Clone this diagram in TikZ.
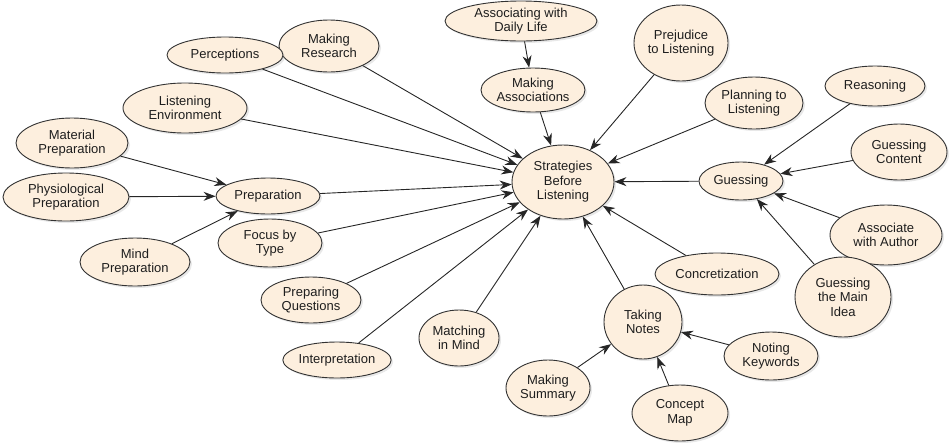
\documentclass[tikz,border=0pt]{standalone}
\usepackage{fontspec}
\setmainfont{Liberation Sans}
\usetikzlibrary{shapes.geometric,arrows.meta,shadows}
\definecolor{nodefill}{RGB}{253,239,222}
\definecolor{nodeline}{RGB}{50,50,50}
\definecolor{txt}{RGB}{30,30,30}
\begin{document}
\begin{tikzpicture}[x=1pt,y=-1pt,
  bub/.style={ellipse,draw=nodeline,fill=nodefill,line width=0.9pt,inner sep=0pt,align=center,
    text=txt,font=\fontsize{13}{14.5}\selectfont,
    drop shadow={opacity=0.18,shadow xshift=2pt,shadow yshift=-2pt}},
  sz/.style 2 args={minimum width=#1pt,minimum height=#2pt},
  arr/.style={-{Stealth[length=12pt,width=9pt]},line width=0.9pt,black!85}]
\useasboundingbox (0,0) rectangle (950,445);
\node[bub,sz={102}{74}] (c) at (563,182) {Strategies\\Before\\Listening};
\node[bub,sz={152}{40}] (adl) at (521,21) {Associating with\\Daily Life};
\node[bub,sz={104}{44}] (ma) at (533,90) {Making\\Associations};
\node[bub,sz={100}{52}] (mr) at (329,46) {Making\\Research};
\node[bub,sz={116}{36}] (per) at (225,55) {Perceptions};
\node[bub,sz={124}{50}] (le) at (185,108) {Listening\\Environment};
\node[bub,sz={112}{50}] (mp) at (72,143) {Material\\Preparation};
\node[bub,sz={126}{48}] (pp) at (66,197) {Physiological\\Preparation};
\node[bub,sz={104}{36}] (prep) at (268,196) {Preparation};
\node[bub,sz={110}{48}] (mind) at (135,262) {Mind\\Preparation};
\node[bub,sz={104}{48}] (fbt) at (270,243) {Focus by\\Type};
\node[bub,sz={100}{46}] (pq) at (311,300) {Preparing\\Questions};
\node[bub,sz={106}{36}] (int) at (337,360) {Interpretation};
\node[bub,sz={80}{56}] (mim) at (459,338) {Matching\\in Mind};
\node[bub,sz={86}{76}] (pre) at (681,43) {Prejudice\\to Listening};
\node[bub,sz={98}{52}] (pla) at (754,103) {Planning to\\Listening};
\node[bub,sz={100}{40}] (rea) at (875,86) {Reasoning};
\node[bub,sz={96}{56}] (gc) at (899,152) {Guessing\\Content};
\node[bub,sz={84}{38}] (gue) at (741,181) {Guessing};
\node[bub,sz={112}{60}] (awa) at (886,235) {Associate\\with Author};
\node[bub,sz={96}{80}] (gmi) at (843,297) {Guessing\\the Main\\Idea};
\node[bub,sz={124}{42}] (con) at (717,274) {Concretization};
\node[bub,sz={78}{74}] (tn) at (643,322) {Taking\\Notes};
\node[bub,sz={94}{48}] (nk) at (771,356) {Noting\\Keywords};
\node[bub,sz={84}{56}] (ms) at (548,388) {Making\\Summary};
\node[bub,sz={96}{56}] (cm) at (680,413) {Concept\\Map};
\foreach \s in {ma,mr,per,le,prep,fbt,pq,int,mim,tn,con,gue,pla,pre}
  \draw[arr] (\s) -- (c);
\draw[arr] (adl) -- (ma);
\foreach \s in {mp,pp,mind} \draw[arr] (\s) -- (prep);
\foreach \s in {rea,gc,awa,gmi} \draw[arr] (\s) -- (gue);
\foreach \s in {nk,cm,ms} \draw[arr] (\s) -- (tn);
\end{tikzpicture}
\end{document}
